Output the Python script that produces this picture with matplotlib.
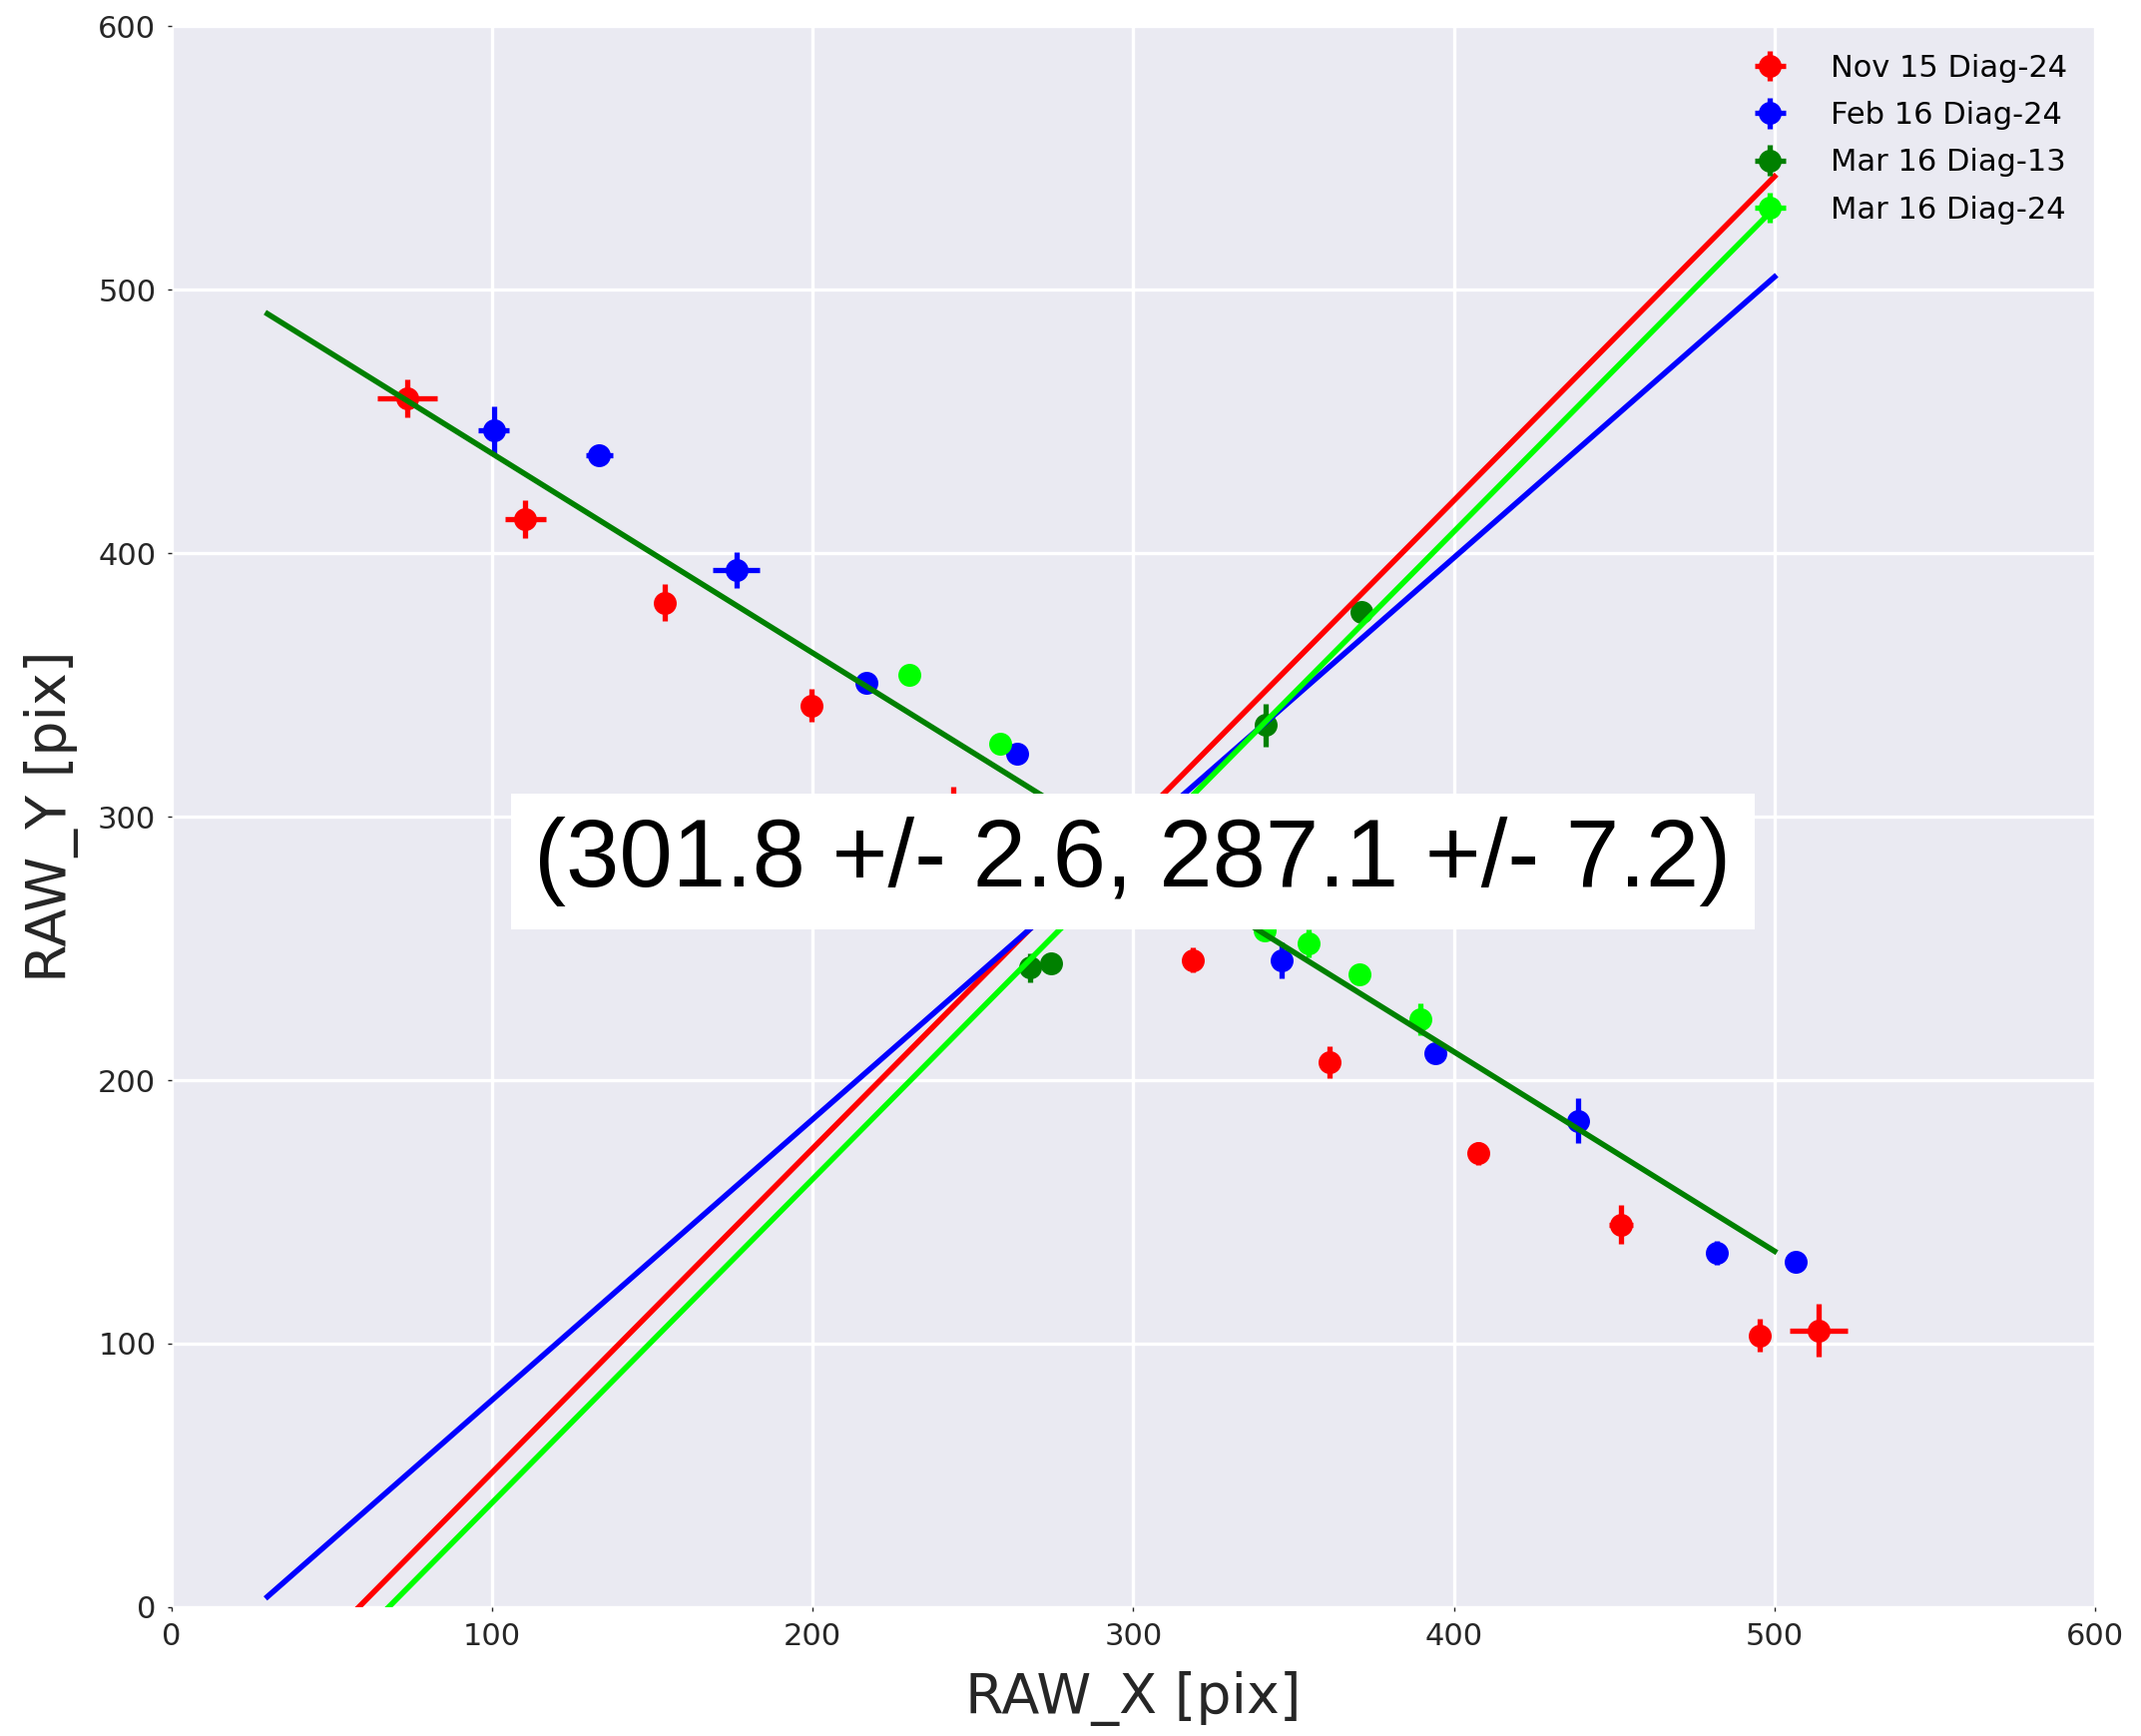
import matplotlib.pyplot as plt
import numpy as np

# measured centroids (RAW pixels) with errors
nov15_x = [73.6, 110.4, 154.0, 199.8, 244.0, 318.6, 361.2, 407.5, 452.1, 495.4, 513.8]
nov15_y = [458.7, 412.9, 381.2, 342.2, 303.0, 245.5, 206.9, 172.2, 145.2, 103.2, 105.0]
nov15_xerr = [9.2, 6.4, 1.5, 1.0, 1.0, 1.0, 1.0, 1.0, 3.6, 1.0, 9.1]
nov15_yerr = [7.3, 7.2, 7.1, 6.3, 8.5, 4.7, 6.0, 4.5, 7.5, 6.4, 10.0]

feb16_x = [100.6, 133.4, 176.2, 216.8, 263.9, 346.3, 394.1, 438.8, 482.1, 506.7]
feb16_y = [446.8, 437.3, 393.6, 350.9, 323.9, 245.5, 210.1, 184.6, 134.5, 131.2]
feb16_xerr = [4.8, 4.2, 7.4, 1.0, 1.0, 1.0, 1.0, 1.0, 1.0, 1.0]
feb16_yerr = [8.8, 2.0, 6.8, 1.0, 1.0, 6.8, 2.0, 8.5, 4.5, 2.0]

mar16_13_x = [267.9, 274.4, 341.3, 371.2]
mar16_13_y = [242.7, 244.2, 334.7, 377.8]
mar16_13_xerr = [1.0, 1.0, 1.0, 1.0]
mar16_13_yerr = [5.6, 2.0, 8.3, 2.0]

mar16_24_x = [230.1, 258.6, 341.0, 354.6, 370.5, 389.6]
mar16_24_y = [353.9, 327.5, 257.0, 251.9, 240.0, 223.1]
mar16_24_xerr = [1.0, 1.0, 1.0, 1.0, 1.0, 1.0]
mar16_24_yerr = [2.0, 2.0, 2.0, 5.3, 2.0, 6.1]

# fitted lines, end points
fit_x = [30, 500]
nov15_fit = [-35.0, 542.9]
feb16_fit = [4.0, 504.8]
mar16_24_fit = [-46.4, 531.0]
diag13_fit = [490.8, 135.1]

labels = ['Nov 15 Diag-24', 'Feb 16 Diag-24', 'Mar 16 Diag-13', 'Mar 16 Diag-24']
colors = ['red', 'blue', 'green', '#00FF00']
center_text = '(301.8 +/- 2.6, 287.1 +/- 7.2)'

plt.rc('font', family='DejaVu Sans')
plt.rc('xtick', labelsize=22)
plt.rc('ytick', labelsize=22)
plt.rc('axes', labelsize=40)

fig = plt.figure(figsize=(21.45, 17.39), dpi=100)
ax = fig.add_axes([0.080, 0.0742, 0.8986, 0.9108])
ax.set_facecolor('#EAEAF2')
for s in ax.spines.values():
    s.set_visible(False)
ax.grid(True, color='white', linewidth=2.4)
ax.set_axisbelow(True)

sets = [(nov15_x, nov15_y, nov15_xerr, nov15_yerr),
        (feb16_x, feb16_y, feb16_xerr, feb16_yerr),
        (mar16_13_x, mar16_13_y, mar16_13_xerr, mar16_13_yerr),
        (mar16_24_x, mar16_24_y, mar16_24_xerr, mar16_24_yerr)]

for (x, y, xe, ye), lab, c in zip(sets, labels, colors):
    ax.errorbar(x, y, xerr=xe, yerr=ye, fmt='o', color=c, ms=15.5, elinewidth=3.8,
                capsize=0, mec=c, label=lab, zorder=3)

ax.plot(fit_x, nov15_fit, color='red', lw=4, zorder=4)
ax.plot(fit_x, feb16_fit, color='blue', lw=4, zorder=4)
ax.plot(fit_x, mar16_24_fit, color='#00FF00', lw=4, zorder=4)
ax.plot(fit_x, diag13_fit, color='green', lw=4, zorder=4)

ax.text(299.9, 283.0, center_text, fontsize=69, family='Liberation Sans', color='black',
        ha='center', va='center', zorder=10,
        bbox=dict(facecolor='white', edgecolor='none', boxstyle='square,pad=0.24'))

ax.set_xlim(0, 600)
ax.set_ylim(0, 600)
ax.set_xticks(np.arange(0, 601, 100))
ax.set_yticks(np.arange(0, 601, 100))
ax.tick_params(colors='#262626', length=3, width=1, pad=8)
ax.set_xlabel('RAW_X [pix]', color='#262626', labelpad=14)
ax.set_ylabel('RAW_Y [pix]', color='#262626', labelpad=14)

ax.legend(loc='upper right', frameon=False, fontsize=22, numpoints=1,
          handletextpad=1.0, labelspacing=0.6)

plt.savefig('out.png', dpi=100)
